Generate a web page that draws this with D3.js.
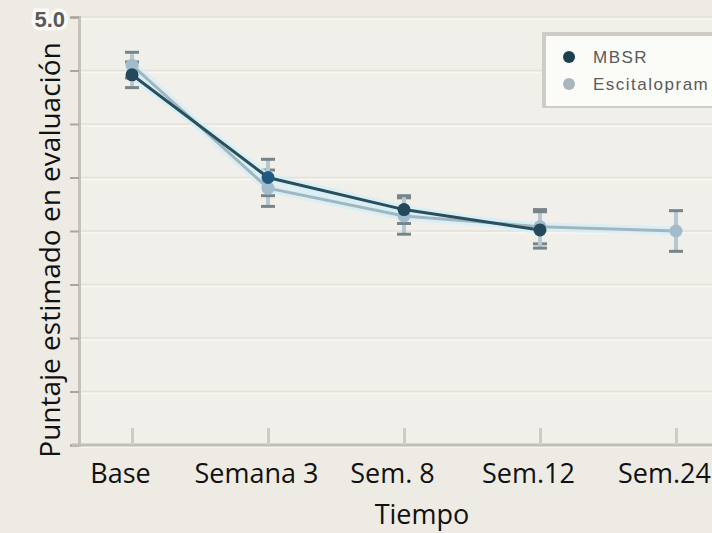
<!DOCTYPE html>
<meta charset="utf-8">
<title>Puntaje estimado en evaluación</title>
<script src="https://d3js.org/d3.v7.min.js"></script>
<style>
  body { margin: 0; background: #edebe4; overflow: hidden; }
  svg { display: block; }
  .tick-x text { font-family: "Open Sans", sans-serif; font-size: 27px; fill: #111; }
  text.ytitle, text.xtitle { font-family: "Open Sans", sans-serif; font-size: 28px; fill: #111; }
  text.xtitle { font-size: 27px; }
  text.legend { font-family: "Liberation Sans", sans-serif; font-size: 17px; fill: #5a5a5a; letter-spacing: 1.5px; }
</style>
<div id="chart"></div>
<script>
// data
var categories = ["Base", "Semana 3", "Sem. 8", "Sem.12", "Sem.24"];
var mbsr       = [4.46, 3.50, 3.20, 3.01, null];
var mbsrErr    = [0.12, 0.17, 0.13, 0.17, null];
var escit      = [4.55, 3.40, 3.14, 3.04, 3.00];
var escitErr   = [0.12, 0.17, 0.17, 0.16, 0.19];
var seriesNames = ["MBSR", "Escitalopram"];
var yTicks = [1.0, 1.5, 2.0, 2.5, 3.0, 3.5, 4.0, 4.5, 5.0];

var W = 712, H = 533;
var margin = {top: 17, right: -17, bottom: 88, left: 79};
var width = W - margin.left - margin.right,
    height = H - margin.top - margin.bottom;

var svg = d3.select("#chart").append("svg")
    .attr("width", W).attr("height", H);

svg.append("rect").attr("width", W).attr("height", H).attr("fill", "#edebe4");

var g = svg.append("g")
    .attr("transform", "translate(" + margin.left + "," + margin.top + ")");

var x = d3.scalePoint().domain(categories).range([0, width]).padding(0.39);
var y = d3.scaleLinear().domain([1, 5]).range([height, 0]);

// plot background
g.append("rect").attr("width", width).attr("height", height).attr("fill", "#f1efe9");

// gridlines
g.selectAll(".grid").data(yTicks).enter().append("line")
    .attr("x1", 0).attr("x2", width)
    .attr("y1", function(d) { return y(d); }).attr("y2", function(d) { return y(d); })
    .attr("stroke", "#e3e0d8").attr("stroke-width", 1.5);
g.selectAll(".grid2").data(yTicks).enter().append("line")
    .attr("x1", 0).attr("x2", width)
    .attr("y1", function(d) { return y(d) + 2; }).attr("y2", function(d) { return y(d) + 2; })
    .attr("stroke", "#f8f7f3").attr("stroke-width", 1.5);

// y axis
var yAxis = g.append("g")
    .call(d3.axisLeft(y).tickValues(yTicks).tickSize(9).tickFormat(function(d) { return d === 5 ? "5.0" : ""; }));
yAxis.select(".domain").attr("stroke", "#c6c2ba").attr("stroke-width", 3);
yAxis.selectAll(".tick line").attr("stroke", "#aaa69e").attr("stroke-width", 2);
yAxis.selectAll(".tick text")
    .attr("x", -14).attr("dy", "0.45em")
    .style("font-family", "'Liberation Sans', sans-serif")
    .style("font-size", "22px").style("font-weight", "bold")
    .attr("fill", "#5a5a5a")
    .style("paint-order", "stroke").attr("stroke", "#fbfaf6").attr("stroke-width", 7);

// x axis
var xAxis = g.append("g").attr("class", "tick-x")
    .attr("transform", "translate(0," + height + ")")
    .call(d3.axisBottom(x).tickSizeInner(-17).tickSizeOuter(0).tickPadding(0));
xAxis.select(".domain").attr("stroke", "#c2beb6").attr("stroke-width", 3)
    .attr("d", "M-7,0H" + width);
xAxis.selectAll(".tick line").attr("stroke", "#cfcbc3").attr("stroke-width", 3);
xAxis.selectAll(".tick text").attr("y", 38).attr("dy", 0).attr("dx", -12);

// error bars
function errorBars(vals, errs, cls) {
  var data = categories.map(function(c, i) { return {c: c, v: vals[i], e: errs[i]}; })
      .filter(function(d) { return d.v != null; });
  var eb = g.selectAll("." + cls).data(data).enter().append("g").attr("class", cls);
  eb.append("line")
      .attr("x1", function(d) { return x(d.c); }).attr("x2", function(d) { return x(d.c); })
      .attr("y1", function(d) { return y(d.v - d.e); }).attr("y2", function(d) { return y(d.v + d.e); })
      .attr("stroke", "#b3c8d2").attr("stroke-width", 4);
  [-1, 1].forEach(function(s) {
    eb.append("line")
        .attr("x1", function(d) { return x(d.c) - 7; }).attr("x2", function(d) { return x(d.c) + 7; })
        .attr("y1", function(d) { return y(d.v + s * d.e); }).attr("y2", function(d) { return y(d.v + s * d.e); })
        .attr("stroke", "#75858a").attr("stroke-width", 3);
  });
}
errorBars(escit, escitErr, "eb-esc");
errorBars(mbsr, mbsrErr, "eb-mbsr");

var line = d3.line()
    .defined(function(d) { return d.v != null; })
    .x(function(d) { return x(d.c); })
    .y(function(d) { return y(d.v); });

function seriesData(vals) {
  return categories.map(function(c, i) { return {c: c, v: vals[i]}; });
}

// halo + lines
[escit, mbsr].forEach(function(vals) {
  g.append("path").datum(seriesData(vals)).attr("d", line)
      .attr("fill", "none").attr("stroke", "#d4eff8").attr("stroke-width", 9).attr("opacity", 0.8);
});
g.append("path").datum(seriesData(escit)).attr("d", line)
    .attr("fill", "none").attr("stroke", "#a2b6be").attr("stroke-width", 3);
g.append("path").datum(seriesData(mbsr)).attr("d", line)
    .attr("fill", "none").attr("stroke", "#2a4f5c").attr("stroke-width", 3);

// points
g.selectAll(".pt-esc").data(seriesData(escit).filter(function(d) { return d.v != null; }))
  .enter().append("circle")
    .attr("cx", function(d) { return x(d.c); }).attr("cy", function(d) { return y(d.v); })
    .attr("r", 6.5).attr("fill", "#a3bccb");
g.selectAll(".pt-mbsr").data(seriesData(mbsr).filter(function(d) { return d.v != null; }))
  .enter().append("circle")
    .attr("cx", function(d) { return x(d.c); }).attr("cy", function(d) { return y(d.v); })
    .attr("r", 6.5).attr("fill", function(d, i) { return i === 1 ? "#1f5983" : "#24495a"; });

// legend (box runs past the right edge, as in the source)
var lg = svg.append("g").attr("transform", "translate(546,36)");
lg.append("rect").attr("x", -4).attr("y", -4).attr("width", 300).attr("height", 76)
    .attr("fill", "#cfccc5");
lg.append("rect").attr("width", 300).attr("height", 70)
    .attr("fill", "#fbfbf8");
var legendColors = ["#1b3f4e", "#a9b6bb"];
seriesNames.forEach(function(name, i) {
  lg.append("circle").attr("cx", 23).attr("cy", 21 + i * 27).attr("r", 6).attr("fill", legendColors[i]);
  lg.append("text").attr("class", "legend").attr("x", 47).attr("y", 27 + i * 27).text(name);
});

// axis titles
svg.append("text").attr("class", "ytitle")
    .attr("transform", "translate(60," + 250 + ")rotate(-90)")
    .attr("text-anchor", "middle")
    .text("Puntaje estimado en evaluación");
svg.append("text").attr("class", "xtitle")
    .attr("x", 422).attr("y", 524).attr("text-anchor", "middle")
    .text("Tiempo");
</script>
